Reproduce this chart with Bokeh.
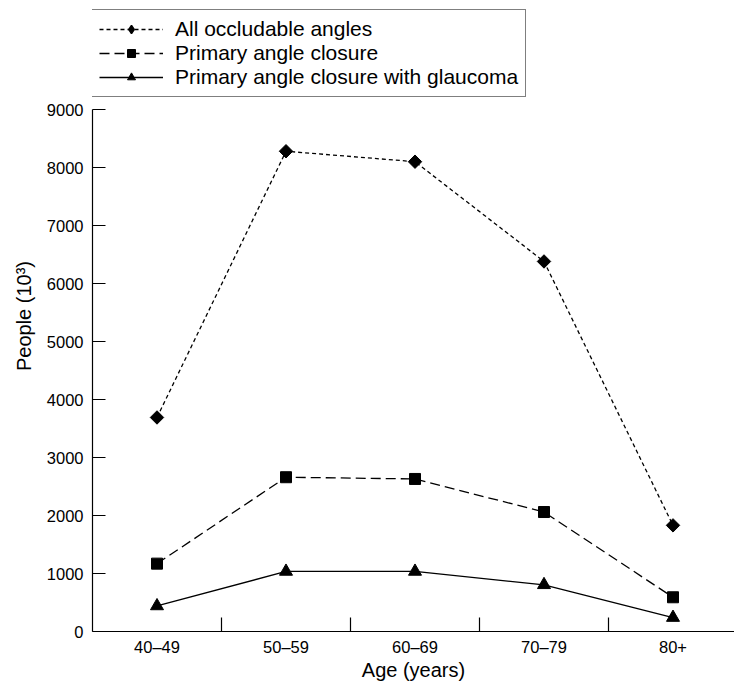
import numpy as np
from bokeh.plotting import figure
from bokeh.models import Range1d, FixedTicker, Legend, LegendItem, ColumnDataSource
from bokeh.embed import file_html
from bokeh.resources import INLINE

categories = ["40–49", "50–59", "60–69", "70–79", "80+"]
all_occludable = [3690, 8280, 8100, 6380, 1830]
primary_closure = [1170, 2660, 2630, 2060, 590]
closure_glaucoma = [440, 1035, 1035, 805, 240]

x = list(range(len(categories)))
FONT = "Liberation Sans, Arial, Helvetica, sans-serif"

PX_PER_UNIT = 522 / 9000.0
Y_TOP = 9000 + 109 / PX_PER_UNIT

p = figure(width=734, height=683, output_backend="svg", toolbar_location=None,
           x_range=Range1d(-0.5, -0.5 + 642 / 129.0), y_range=Range1d(0, Y_TOP),
           min_border_left=92, min_border_top=0, min_border_right=0, min_border_bottom=52)
p.outline_line_color = None
p.grid.visible = False
p.background_fill_color = "white"

src = ColumnDataSource(dict(x=x, a=all_occludable, b=primary_closure, c=closure_glaucoma))

l1 = p.line("x", "a", source=src, line_color="black", line_width=1.3, line_dash="4 3")
m1 = p.scatter("x", "a", source=src, marker="square", angle=np.pi / 4, size=9.5,
               fill_color="black", line_color="black")
# legend-only diamond sample (a NaN point, never drawn in the plot)
m1_leg = p.scatter(x=[0], y=[float("nan")], marker="diamond", size=16,
                   fill_color="black", line_color="black", line_width=1.5)
l2 = p.line("x", "b", source=src, line_color="black", line_width=1.3, line_dash="10 5")
m2 = p.scatter("x", "b", source=src, marker="square", size=11,
               fill_color="black", line_color="black")
l3 = p.line("x", "c", source=src, line_color="black", line_width=1.3)
m3 = p.scatter("x", "c", source=src, marker="triangle", size=13,
               fill_color="black", line_color="black")

# x axis
xa = p.xaxis[0]
xa.ticker = FixedTicker(ticks=x, minor_ticks=[0.5, 1.5, 2.5, 3.5])
xa.major_label_overrides = {i: c for i, c in enumerate(categories)}
xa.major_tick_line_color = None
xa.major_tick_in = 0
xa.major_tick_out = 0
xa.minor_tick_in = 14
xa.minor_tick_out = 0
xa.minor_tick_line_color = "black"
xa.minor_tick_line_width = 1.2
xa.axis_line_color = "black"
xa.axis_line_width = 1.2
xa.major_label_text_font = FONT
xa.major_label_text_font_size = "16.5px"
xa.major_label_text_color = "black"
xa.major_label_standoff = 6
xa.axis_label = "Age (years)"
xa.axis_label_text_font = FONT
xa.axis_label_text_font_size = "20px"
xa.axis_label_text_font_style = "normal"
xa.axis_label_text_color = "black"
xa.axis_label_standoff = 0

# y axis
ya = p.yaxis[0]
ya.bounds = (0, 9000)
ya.ticker = FixedTicker(ticks=list(range(0, 9001, 1000)), minor_ticks=[])
ya.major_tick_in = 13
ya.major_tick_out = 0
ya.major_tick_line_color = "black"
ya.major_tick_line_width = 1.2
ya.minor_tick_line_color = None
ya.axis_line_color = "black"
ya.axis_line_width = 1.2
ya.major_label_text_font = FONT
ya.major_label_text_font_size = "16.5px"
ya.major_label_text_color = "black"
ya.major_label_standoff = 9
ya.axis_label = "People (10³)"
ya.axis_label_text_font = FONT
ya.axis_label_text_font_size = "20px"
ya.axis_label_text_font_style = "normal"
ya.axis_label_text_color = "black"
ya.axis_label_standoff = 9

legend = Legend(items=[
    LegendItem(label="All occludable angles", renderers=[l1, m1_leg]),
    LegendItem(label="Primary angle closure", renderers=[l2, m2]),
    LegendItem(label="Primary angle closure with glaucoma", renderers=[l3, m3]),
], location=(-1, 534))
legend.label_text_font = FONT
legend.label_text_font_size = "21px"
legend.label_text_color = "black"
legend.glyph_width = 64
legend.glyph_height = 20
legend.label_height = 20
legend.label_standoff = 12
legend.spacing = 0
legend.padding = 7
legend.margin = 0
legend.border_line_color = "black"
legend.border_line_width = 1
legend.background_fill_color = "white"
legend.background_fill_alpha = 1
p.add_layout(legend, "center")

open("out.html", "w").write(file_html(p, INLINE))
